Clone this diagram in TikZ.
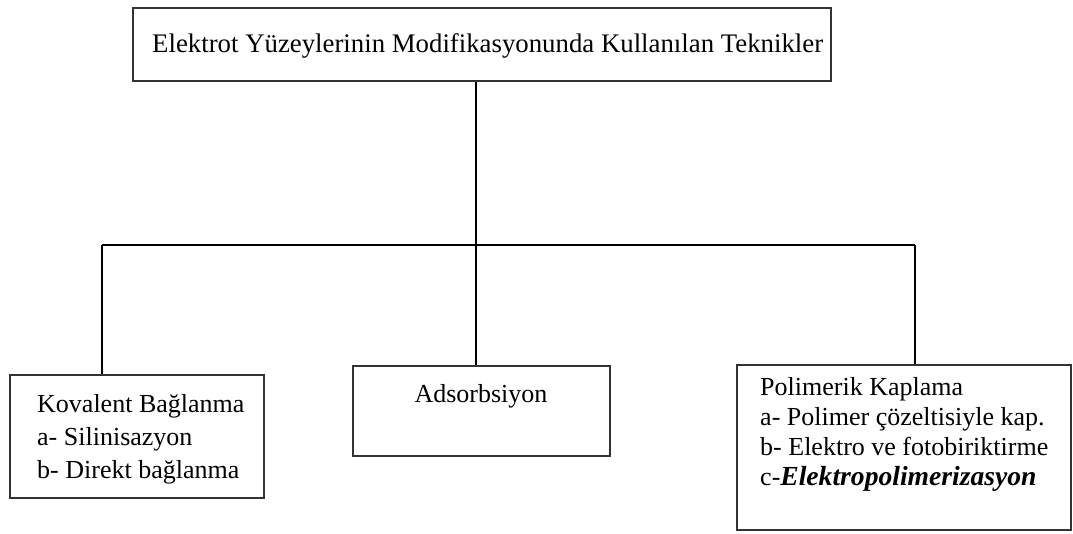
\documentclass[tikz,border=0pt]{standalone}
\usepackage{fontspec}
\setmainfont{Liberation Serif}
\begin{document}
\begin{tikzpicture}[x=1pt, y=-1pt]
    \tikzset{
      kutu/.style={draw=black!80, line width=1.4pt, inner sep=0pt},
      yazi/.style={inner sep=0pt, align=left, font=\fontsize{26}{33}\selectfont},
      hat/.style={black, line width=1.3pt}
    }
    \useasboundingbox (0,0) rectangle (1073,533);
    % kutular
    \node[kutu, minimum width=698, minimum height=73]  (ana) at (482,44.5)  {};
    \node[kutu, minimum width=254, minimum height=123] (kov) at (137,436.5) {};
    \node[kutu, minimum width=257, minimum height=90]  (ads) at (481.5,411) {};
    \node[kutu, minimum width=334, minimum height=165] (pol) at (904,447.5) {};
    % yazilar
    \node[yazi, anchor=base west, font=\fontsize{26.8}{33}\selectfont] (anatxt) at (152,52)
        {Elektrot Yüzeylerinin Modifikasyonunda Kullanılan Teknikler};
    \node[yazi, anchor=north west] (kovtxt) at (37,394) {Kovalent Bağlanma\\a- Silinisazyon\\b- Direkt bağlanma};
    \node[yazi, anchor=base] (adstxt) at (481,402) {Adsorbsiyon};
    \node[yazi, anchor=north west, font=\fontsize{26}{30}\selectfont] (poltxt) at (760,377)
        {Polimerik Kaplama\\a- Polimer çözeltisiyle kap.\\b- Elektro ve fotobiriktirme\\c-{\fontsize{27.6}{30}\selectfont\textbf{\textit{Elektropolimerizasyon}}}};
    % baglantilar
    \coordinate (kavsak) at (476,245);
    \coordinate (sol) at (102,245);
    \coordinate (sag) at (915,245);
    \draw[hat] (ana.south -| kavsak) -- (kavsak);
    \draw[hat] (sol) -- (sag);
    \draw[hat] (sol) -- (sol |- kov.north);
    \draw[hat] (kavsak) -- (kavsak |- ads.north);
    \draw[hat] (sag) -- (sag |- pol.north);
\end{tikzpicture}
\end{document}
